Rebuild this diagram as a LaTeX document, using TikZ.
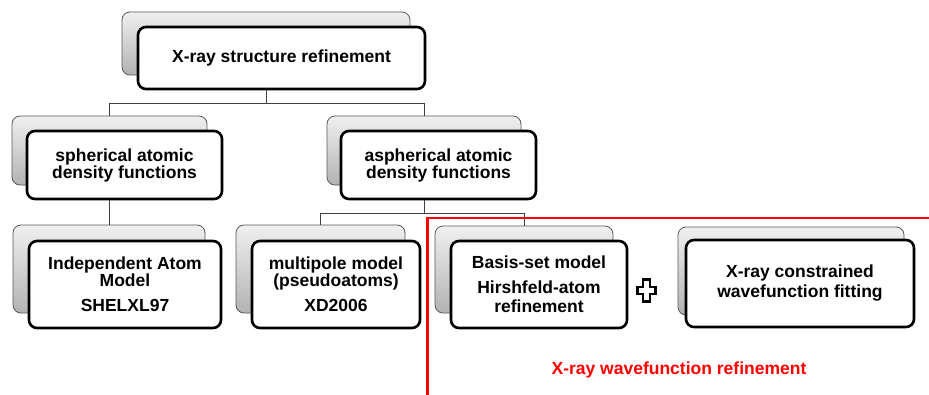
\documentclass[tikz,border=0pt]{standalone}
\usepackage{fontspec}
\setmainfont{Liberation Sans}
\newcommand\boxfont{\fontsize{17.5}{17}\selectfont\bfseries}
\begin{document}
\begin{tikzpicture}[x=1pt,y=-1pt,
  backbox/.style={draw=black!65, line width=0.8pt, rounded corners=8pt,
    top color=black!6, bottom color=black!30, inner sep=0pt},
  frontbox/.style={draw=black, line width=2.6pt, rounded corners=8pt,
    fill=white, inner sep=0pt, align=center, font=\boxfont},
  conn/.style={draw=black!75, line width=1pt},
  redframe/.style={draw=red, line width=2.4pt},
  plusmark/.style={draw=black, line width=2.6pt, fill=white, line join=miter}]
\clip (0,0) rectangle (929,394);
\fill[white] (0,0) rectangle (929,394);

% back boxes
\node[backbox, minimum width=288pt, minimum height=63pt] (topB) at (266,43.5) {};
\node[backbox, minimum width=195pt, minimum height=69pt] (sphB) at (109.5,150.5) {};
\node[backbox, minimum width=194pt, minimum height=69pt] (asphB) at (424,150.5) {};
\node[backbox, minimum width=192pt, minimum height=88pt] (iamB) at (109,269) {};
\node[backbox, minimum width=169pt, minimum height=88pt] (multB) at (320.5,269) {};
\node[backbox, minimum width=178pt, minimum height=87pt] (basisB) at (524,269.5) {};
\node[backbox, minimum width=226pt, minimum height=88pt] (xcB) at (791,271) {};

% front boxes
\node[frontbox, minimum width=287pt, minimum height=62pt] (topF) at (281.5,58) {X-ray structure refinement};
\node[frontbox, minimum width=195pt, minimum height=68pt] (sphF) at (124.5,165) {spherical atomic\\density functions};
\node[frontbox, minimum width=195pt, minimum height=68pt] (asphF) at (438.5,165) {aspherical atomic\\density functions};
\node[frontbox, minimum width=192pt, minimum height=87pt] (iamF) at (125,284.5) {Independent Atom\\Model\\[8pt]SHELXL97};
\node[frontbox, minimum width=168pt, minimum height=87pt] (multF) at (336,284.5) {multipole model\\(pseudoatoms)\\[8pt]XD2006};
\node[frontbox, minimum width=176pt, minimum height=87pt] (basisF) at (539,284.5) {Basis-set model\\[8pt]Hirshfeld-atom\\[2pt]refinement};
\node[frontbox, minimum width=228pt, minimum height=87pt] (xcF) at (800,283.5) {X-ray constrained\\[3pt]wavefunction fitting};

% connectors
\draw[conn] (topB |- topF.south) -- ++(0,13) coordinate (j1) -| (sphB.north);
\draw[conn] (j1) -| (asphB.north);
\draw[conn] (sphB |- sphF.south) -- (sphB |- iamB.north);
\draw[conn] (asphB |- asphF.south) -- ++(0,13) coordinate (j2) -| (multB.north);
\draw[conn] (j2) -| (basisB.north);

% plus sign
\draw[plusmark] (643,279.3) -- (650,279.3) -- (650,287) -- (655.7,287) -- (655.7,294)
  -- (650,294) -- (650,301.7) -- (643,301.7) -- (643,294) -- (637.3,294)
  -- (637.3,287) -- (643,287) -- cycle;

% red frame
\coordinate (rc) at (427.5,218);
\draw[redframe] (940,218) -- (rc) -- (427.5,400);
\node[text=red, font=\boxfont] (wfr) at (679,370) {X-ray wavefunction refinement};
\end{tikzpicture}
\end{document}
